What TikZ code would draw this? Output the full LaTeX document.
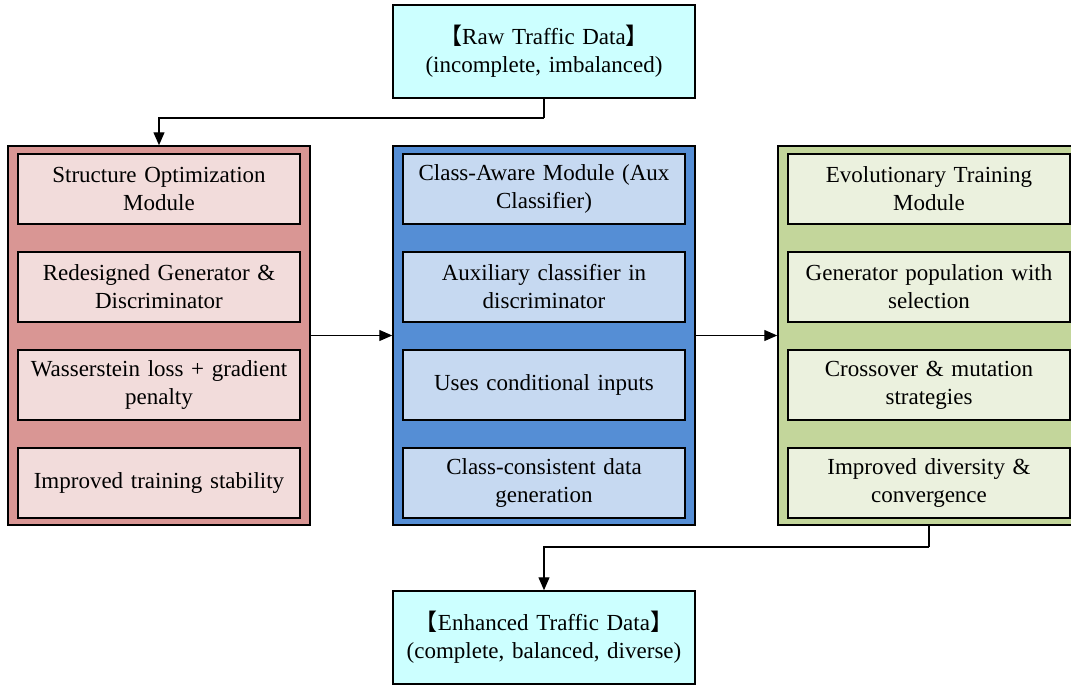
\documentclass[tikz,border=0pt]{standalone}
\usepackage{fontspec}
\setmainfont{Liberation Serif}
\newfontfamily\cjk{Noto Sans CJK SC}
\usetikzlibrary{arrows.meta}
\definecolor{datafill}{HTML}{CCFFFF}
\definecolor{redouter}{HTML}{D99694}
\definecolor{redinner}{HTML}{F2DCDB}
\definecolor{blueouter}{HTML}{558ED5}
\definecolor{blueinner}{HTML}{C6D9F1}
\definecolor{greenouter}{HTML}{C3D69B}
\definecolor{greeninner}{HTML}{EBF1DE}
\begin{document}
\begin{tikzpicture}[x=1pt,y=-1pt,
  txt/.style={font=\fontsize{23}{28}\selectfont, align=center, text width=278pt},
  databox/.style={txt, draw, line width=1.5pt, fill=datafill, minimum width=302pt, minimum height=93pt, inner sep=0pt},
  module/.style={draw, line width=1.5pt, minimum width=302pt, minimum height=379pt, inner sep=0pt},
  item/.style={txt, draw, line width=1.5pt, minimum width=282pt, minimum height=70pt, inner sep=0pt},
  arr/.style={line width=1.3pt, -{Triangle[length=13pt,width=11pt]}},
  lnk/.style={line width=1.3pt}
]
\useasboundingbox (0,0) rectangle (1071,686);

% input and output data
\node[databox] (raw) at (544,51.5) {{\cjk 【}Raw Traffic Data{\cjk 】}\\(incomplete, imbalanced)};
\node[databox] (enh) at (544,637.5) {{\cjk 【}Enhanced Traffic Data{\cjk 】}\\(complete, balanced, diverse)};

% three modules
\node[module, fill=redouter] (som) at (159,335.5) {};
\node[module, fill=blueouter] (cam) at (544,335.5) {};
\node[module, fill=greenouter] (etm) at (929,335.5) {};

% structure optimization module
\node[item, fill=redinner] (s1) at (159,189) {Structure Optimization\\Module};
\node[item, fill=redinner] (s2) at (159,287) {Redesigned Generator \&\\Discriminator};
\node[item, fill=redinner] (s3) at (159,385) {Wasserstein loss + gradient\\penalty};
\node[item, fill=redinner] (s4) at (159,483) {Improved training stability};

% class-aware module
\node[item, fill=blueinner] (c1) at (544,189) {Class-Aware Module (Aux\\Classifier)};
\node[item, fill=blueinner] (c2) at (544,287) {Auxiliary classifier in\\discriminator};
\node[item, fill=blueinner] (c3) at (544,385) {Uses conditional inputs};
\node[item, fill=blueinner] (c4) at (544,483) {Class-consistent data\\generation};

% evolutionary training module
\node[item, fill=greeninner] (e1) at (929,189) {Evolutionary Training\\Module};
\node[item, fill=greeninner] (e2) at (929,287) {Generator population with\\selection};
\node[item, fill=greeninner] (e3) at (929,385) {Crossover \& mutation\\strategies};
\node[item, fill=greeninner] (e4) at (929,483) {Improved diversity \&\\convergence};

% connectors
\coordinate (k1) at (544,118);
\coordinate (k2) at (929,547);
\draw[lnk] (raw.south) -- (k1);
\draw[arr] (k1) -| (som.north);
\draw[arr] (som.east) -- (cam.west);
\draw[arr] (cam.east) -- (etm.west);
\draw[lnk] (etm.south) -- (k2);
\draw[arr] (k2) -| (enh.north);
\end{tikzpicture}
\end{document}
